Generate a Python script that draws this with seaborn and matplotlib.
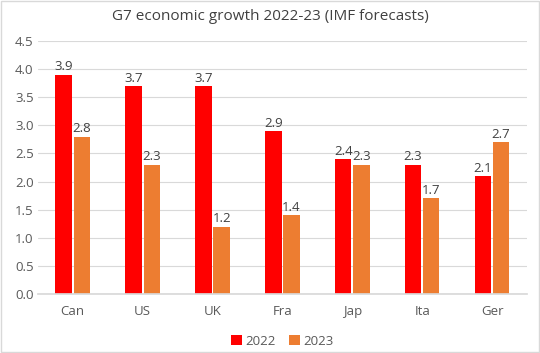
import numpy as np
import pandas as pd
import seaborn as sns
import matplotlib.pyplot as plt

# Data
countries = ["Can", "US", "UK", "Fra", "Jap", "Ita", "Ger"]
growth_2022 = [3.9, 3.7, 3.7, 2.9, 2.4, 2.3, 2.1]
growth_2023 = [2.8, 2.3, 1.2, 1.4, 2.3, 1.7, 2.7]
years = ["2022", "2023"]

df = pd.DataFrame({
    "country": countries * 2,
    "year": [years[0]] * len(countries) + [years[1]] * len(countries),
    "growth": growth_2022 + growth_2023,
})

sns.set_theme(style="white")
plt.rcParams['font.family'] = ['Open Sans', 'DejaVu Sans']

fig = plt.figure(figsize=(5.4, 3.53), dpi=100)
ax = fig.add_axes([0.07, 0.167, 0.906, 0.717])

palette = {"2022": "#FF0000", "2023": "#ED7D31"}
sns.barplot(data=df, x="country", y="growth", hue="year", palette=palette,
            width=0.52, gap=0.1, saturation=1, linewidth=0, ax=ax, legend=True)

for cont in ax.containers:
    ax.bar_label(cont, fmt="%.1f", padding=1, fontsize=9.5, color="#404040")

ax.set_ylim(0, 4.5)
ax.set_yticks(np.arange(0, 4.51, 0.5))
ax.set_yticklabels([f"{v:.1f}" for v in np.arange(0, 4.51, 0.5)])
ax.yaxis.grid(True, color="#D9D9D9", linewidth=0.8)
ax.set_axisbelow(True)
for s in ["top", "right", "left"]:
    ax.spines[s].set_visible(False)
ax.spines["bottom"].set_color("#D9D9D9")
ax.tick_params(axis="both", length=0, labelsize=9.5, colors="#595959", pad=8)
ax.tick_params(axis="y", pad=3)
ax.set_xlabel("")
ax.set_ylabel("")

fig.suptitle("G7 economic growth 2022-23 (IMF forecasts)", y=0.975,
             fontsize=11, color="#404040")

ax.legend(loc="upper center", bbox_to_anchor=(0.5, -0.115), ncol=2, frameon=False,
          fontsize=9.5, handlelength=0.8, handleheight=0.8, handletextpad=0.3,
          columnspacing=1.0, labelcolor="#595959")

fig.patches.append(plt.Rectangle((0.002, 0.002), 0.996, 0.996, transform=fig.transFigure,
                                 fill=False, edgecolor="#D9D9D9", linewidth=1))

fig.savefig("out.png", dpi=100)
